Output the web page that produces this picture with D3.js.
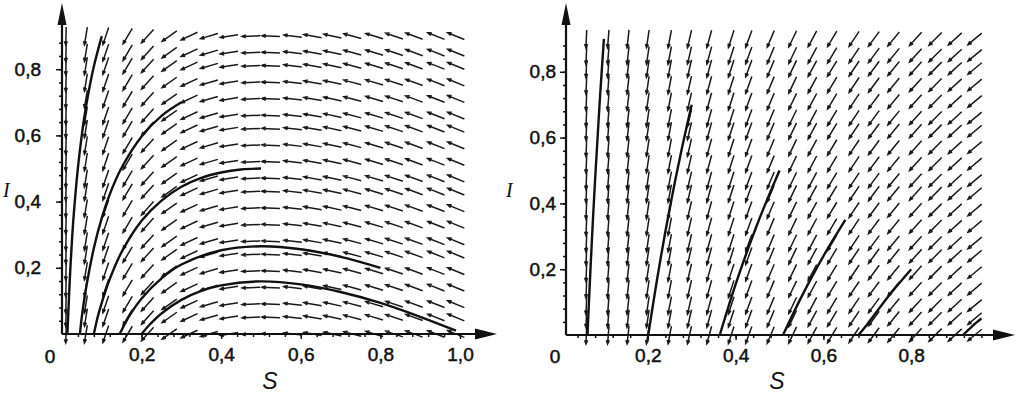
<!DOCTYPE html>
<html>
<head>
<meta charset="utf-8">
<script src="https://cdn.jsdelivr.net/npm/d3@7"></script>
<style>
  body { margin: 0; background: #fff; }
  svg text { font-family: "Liberation Sans", Arial, sans-serif; fill: #111; }
</style>
</head>
<body>
<div id="chart"></div>
<script>
// grid of the direction field (same rows for both plots)
var fieldRows = [0, 0.05, 0.09, 0.14, 0.19, 0.24, 0.28, 0.33, 0.38, 0.43,
                 0.47, 0.52, 0.57, 0.62, 0.66, 0.71, 0.76, 0.81, 0.85, 0.90];

// left plot: columns and the slope dI/dS read for each column
var leftCols   = [0.01, 0.06, 0.11, 0.165, 0.215, 0.27, 0.32, 0.37, 0.42, 0.475,
                  0.525, 0.58, 0.63, 0.68, 0.73, 0.785, 0.835, 0.885, 0.94, 0.99];
var leftSlopes = [49, 7.33, 3.55, 2.03, 1.33, 0.85, 0.56, 0.35, 0.19, 0.05,
                  -0.05, -0.14, -0.21, -0.26, -0.32, -0.36, -0.40, -0.44, -0.47, -0.49];

// right plot
var rightCols   = [0.06, 0.11, 0.155, 0.20, 0.25, 0.295, 0.34, 0.39, 0.43, 0.48,
                   0.53, 0.575, 0.62, 0.67, 0.715, 0.76, 0.81, 0.855, 0.90, 0.945];
var rightSlopes = [32.3, 17.2, 11.9, 9.0, 7.0, 5.78, 4.88, 4.13, 3.65, 3.17,
                   2.77, 2.48, 2.23, 1.99, 1.80, 1.63, 1.47, 1.34, 1.22, 1.12];

// trajectories, [S, I] points
var leftCurves = [
  [[0.99, 0.01], [0.9, 0.052], [0.8, 0.094], [0.7, 0.127], [0.6, 0.150], [0.5, 0.159],
   [0.4, 0.147], [0.35, 0.130], [0.3, 0.103], [0.25, 0.062], [0.22, 0.028], [0.2, 0]],
  [[0.8, 0.2], [0.7, 0.233], [0.6, 0.256], [0.5, 0.265], [0.4, 0.253], [0.3, 0.210],
   [0.25, 0.168], [0.2, 0.107], [0.17, 0.056], [0.145, 0]],
  [[0.5, 0.5], [0.45, 0.497], [0.4, 0.488], [0.35, 0.472], [0.3, 0.445], [0.25, 0.403],
   [0.2, 0.342], [0.15, 0.248], [0.12, 0.166], [0.1, 0.095], [0.09, 0.053], [0.08, 0]],
  [[0.3, 0.7], [0.25, 0.659], [0.2, 0.597], [0.15, 0.503], [0.12, 0.422], [0.1, 0.351],
   [0.08, 0.259], [0.06, 0.135], [0.05, 0.054], [0.045, 0]],
  [[0.1, 0.9], [0.08, 0.808], [0.06, 0.685], [0.05, 0.603], [0.04, 0.502], [0.03, 0.368],
   [0.025, 0.282], [0.02, 0.175], [0.016, 0.068], [0.0135, 0]]
];
var rightCurves = [
  [[0.1, 0.9], [0.09, 0.699], [0.08, 0.474], [0.07, 0.217], [0.0626, 0]],
  [[0.3, 0.7], [0.275, 0.551], [0.25, 0.385], [0.225, 0.200], [0.201, 0]],
  [[0.5, 0.5], [0.45, 0.339], [0.4, 0.154], [0.364, 0]],
  [[0.65, 0.35], [0.6, 0.240], [0.55, 0.116], [0.508, 0]],
  [[0.8, 0.2], [0.75, 0.121], [0.7, 0.033], [0.68, 0]],
  [[0.96, 0.05], [0.94, 0.028], [0.918, 0]]
];

var leftXTicks  = [0.2, 0.4, 0.6, 0.8, 1.0];
var rightXTicks = [0.2, 0.4, 0.6, 0.8];
var yTicks      = [0.2, 0.4, 0.6, 0.8];

var fmt = d3.formatLocale({decimal: ",", thousands: " ", grouping: [3], currency: ["", ""]}).format(".1f");

var svg = d3.select("#chart").append("svg")
  .attr("width", 1024)
  .attr("height", 396);

function drawPanel(p) {
  var g = svg.append("g");
  var x = p.x, y = p.y;
  var kx = x(1) - x(0), ky = y(0) - y(1);
  var ax = x(p.axisS), ay = y(0);

  // direction field
  var arrows = [];
  p.cols.forEach(function(s, j) {
    fieldRows.forEach(function(i) {
      arrows.push({s: s, i: i, slope: p.slopes[j]});
    });
  });
  var L = p.arrowLen;
  g.append("g").selectAll("path")
    .data(arrows)
    .enter()
    .append("path")
    .attr("d", function(d) {
      var dx = -kx, dy = d.slope * ky;
      var len = Math.sqrt(dx * dx + dy * dy);
      var ux = dx / len, uy = dy / len;
      var cx = x(d.s), cy = y(d.i);
      var x0 = cx - ux * L / 2, y0 = cy - uy * L / 2;
      var x1 = cx + ux * L / 2, y1 = cy + uy * L / 2;
      var a = 0.38, h = 4;
      var bx1 = x1 - h * (ux * Math.cos(a) - uy * Math.sin(a));
      var by1 = y1 - h * (ux * Math.sin(a) + uy * Math.cos(a));
      var bx2 = x1 - h * (ux * Math.cos(a) + uy * Math.sin(a));
      var by2 = y1 - h * (-ux * Math.sin(a) + uy * Math.cos(a));
      return "M" + x0 + "," + y0 + "L" + x1 + "," + y1 +
             "M" + bx1 + "," + by1 + "L" + x1 + "," + y1 + "L" + bx2 + "," + by2;
    })
    .attr("fill", "none")
    .attr("stroke", "#1a1a1a")
    .attr("stroke-width", 1.5);

  // trajectories
  var line = d3.line()
    .x(function(d) { return x(d[0]); })
    .y(function(d) { return y(d[1]); })
    .curve(d3.curveCatmullRom.alpha(0.5));
  g.append("g").selectAll("path")
    .data(p.curves)
    .enter()
    .append("path")
    .attr("d", line)
    .attr("fill", "none")
    .attr("stroke", "#111")
    .attr("stroke-width", 2.4);

  // axes lines + arrow heads
  g.append("line")
    .attr("x1", ax).attr("y1", ay).attr("x2", p.xEnd - 18).attr("y2", ay)
    .attr("stroke", "#111").attr("stroke-width", 2.2);
  g.append("line")
    .attr("x1", ax).attr("y1", ay).attr("x2", ax).attr("y2", p.yEnd + 18)
    .attr("stroke", "#111").attr("stroke-width", 2.2);
  g.append("path")
    .attr("d", "M" + p.xEnd + "," + ay + "L" + (p.xEnd - 22) + "," + (ay - 5.5) +
               "L" + (p.xEnd - 22) + "," + (ay + 5.5) + "Z")
    .attr("fill", "#111");
  g.append("path")
    .attr("d", "M" + ax + "," + p.yEnd + "L" + (ax - 4.5) + "," + (p.yEnd + 22) +
               "L" + (ax + 4.5) + "," + (p.yEnd + 22) + "Z")
    .attr("fill", "#111");

  // minor ticks
  var minorX = d3.range(0.04, p.xMax + 0.001, 0.04);
  var minorY = d3.range(0.04, 0.9, 0.04);
  g.append("g")
    .attr("transform", "translate(0," + ay + ")")
    .call(d3.axisBottom(x).tickValues(minorX).tickSize(3).tickFormat(""))
    .call(function(s) { s.select(".domain").remove(); })
    .selectAll("line").attr("stroke", "#111").attr("stroke-width", 1.3);
  g.append("g")
    .attr("transform", "translate(" + ax + ",0)")
    .call(d3.axisLeft(y).tickValues(minorY).tickSize(3).tickFormat(""))
    .call(function(s) { s.select(".domain").remove(); })
    .selectAll("line").attr("stroke", "#111").attr("stroke-width", 1.3);

  // major ticks and labels
  var xa = g.append("g")
    .attr("transform", "translate(0," + ay + ")")
    .call(d3.axisBottom(x).tickValues(p.xTicks).tickSize(5).tickPadding(9).tickFormat(fmt));
  xa.select(".domain").remove();
  var ya = g.append("g")
    .attr("transform", "translate(" + ax + ",0)")
    .call(d3.axisLeft(y).tickValues(yTicks).tickSize(6).tickPadding(p.yPad).tickFormat(fmt));
  ya.select(".domain").remove();
  g.selectAll(".tick line").attr("stroke", "#111").attr("stroke-width", 1.5);
  g.selectAll(".tick text")
    .attr("font-size", 19)
    .attr("fill", "#111")
    .attr("stroke", "#111")
    .attr("stroke-width", 0.5)
    .style("font-family", "'Liberation Sans', Arial, sans-serif");

  g.append("text")
    .attr("x", p.zeroX).attr("y", 363)
    .attr("text-anchor", "middle")
    .attr("font-size", 19)
    .attr("stroke", "#111")
    .attr("stroke-width", 0.5)
    .text("0");

  g.append("text")
    .attr("x", p.sLabelX).attr("y", 389)
    .attr("text-anchor", "middle")
    .attr("font-size", 23)
    .attr("font-style", "italic")
    .text("S");

  g.append("text")
    .attr("x", p.iLabelX).attr("y", 197)
    .attr("font-size", 20)
    .attr("font-style", "italic")
    .style("font-family", "'Liberation Serif', 'Times New Roman', serif")
    .text("I");
}

drawPanel({
  x: d3.scaleLinear().domain([0, 1]).range([62, 460]),
  y: d3.scaleLinear().domain([0, 1]).range([334, 3]),
  axisS: 0, xEnd: 497, yEnd: 3, xMax: 1.0,
  cols: leftCols, slopes: leftSlopes, curves: leftCurves,
  xTicks: leftXTicks, yPad: 15, arrowLen: 18,
  zeroX: 50, sLabelX: 270, iLabelX: 3
});

drawPanel({
  x: d3.scaleLinear().domain([0, 1]).range([560, 999]),
  y: d3.scaleLinear().domain([0, 1]).range([335, 6]),
  axisS: 0.0137, xEnd: 1015, yEnd: 3, xMax: 0.96,
  cols: rightCols, slopes: rightSlopes, curves: rightCurves,
  xTicks: rightXTicks, yPad: 4, arrowLen: 18,
  zeroX: 555, sLabelX: 777, iLabelX: 506
});
</script>
</body>
</html>
